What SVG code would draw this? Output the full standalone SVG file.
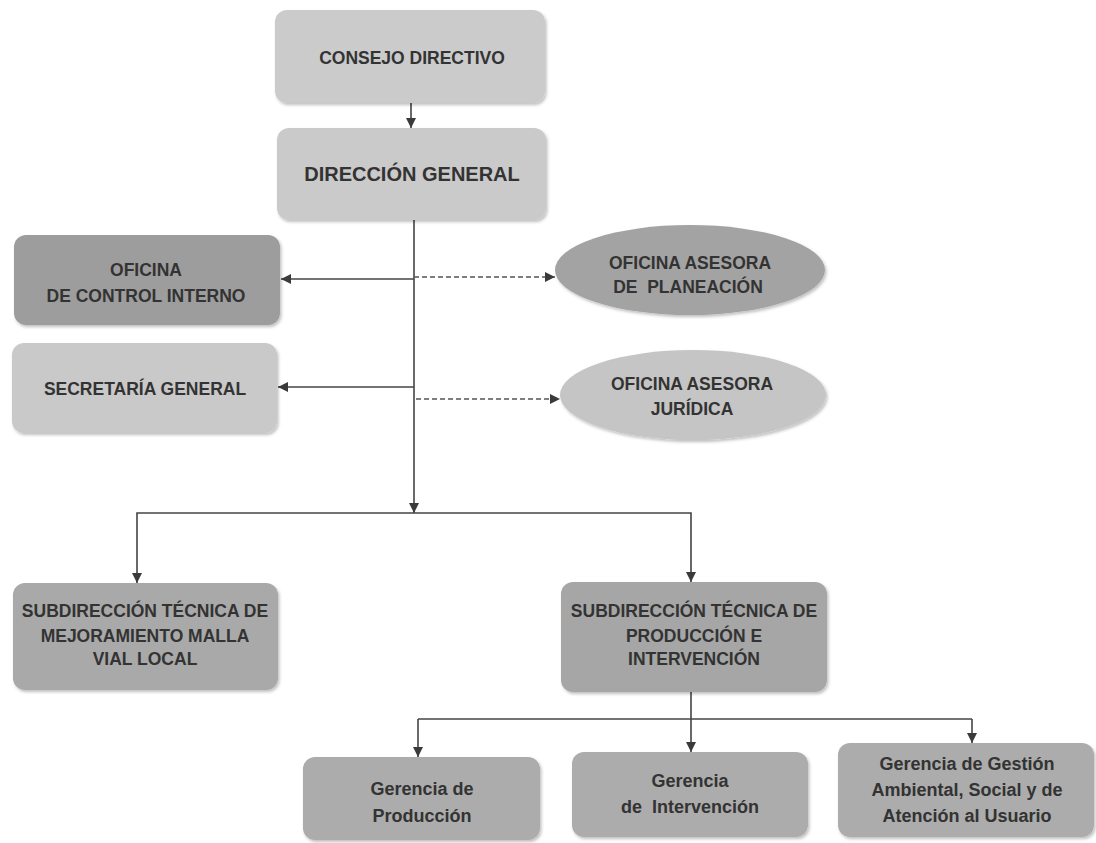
<svg xmlns="http://www.w3.org/2000/svg" width="1096" height="843" viewBox="0 0 1096 843">
<style>
  .box { stroke: none; filter: url(#sh); }
  .t { font-family: "Liberation Sans", Arial, sans-serif; font-weight: bold; font-size: 17.5px; fill: #333333; text-anchor: middle; }
  .tg { font-size: 18px; }
  .big { font-size: 20px; }
  .ln { fill: none; stroke: #444; stroke-width: 1.6; }
  .dash { stroke-dasharray: 5 3; stroke: #555; }
</style>
<defs>
  <filter id="sh" x="-5%" y="-5%" width="112%" height="115%">
    <feDropShadow dx="1.5" dy="2" stdDeviation="1.5" flood-color="#000" flood-opacity="0.25"/>
  </filter>
  <marker id="arr" viewBox="0 0 10 10" refX="10" refY="5" markerWidth="11" markerHeight="10" markerUnits="userSpaceOnUse" orient="auto">
    <path d="M0,0 L10,5 L0,10 Z" fill="#3a3a3a"/>
  </marker>
</defs>
<rect width="1096" height="843" fill="#ffffff"/>

<g id="connectors">
  <path class="ln" d="M411,103 V128" marker-end="url(#arr)"/>
  <path class="ln" d="M414,220 V513" marker-end="url(#arr)"/>
  <path class="ln" d="M414,279 H281" marker-end="url(#arr)"/>
  <path class="ln dash" d="M414,277 H555" marker-end="url(#arr)"/>
  <path class="ln" d="M414,387 H278" marker-end="url(#arr)"/>
  <path class="ln dash" d="M416,399 H560" marker-end="url(#arr)"/>
  <path class="ln" d="M414,513 H137 V583" marker-end="url(#arr)"/>
  <path class="ln" d="M414,513 H691 V582" marker-end="url(#arr)"/>
  <path class="ln" d="M691,692 V719"/>
  <path class="ln" d="M418,719 H972"/>
  <path class="ln" d="M418,719 V757" marker-end="url(#arr)"/>
  <path class="ln" d="M691,719 V752" marker-end="url(#arr)"/>
  <path class="ln" d="M972,719 V743" marker-end="url(#arr)"/>
</g>

<g id="consejo">
  <rect class="box" x="275" y="10" width="270" height="93" rx="12" fill="#cbcbcb"/>
  <text class="t" x="412" y="64">CONSEJO DIRECTIVO</text>
</g>
<g id="direccion">
  <rect class="box" x="277" y="128" width="269" height="92" rx="12" fill="#cacaca"/>
  <text class="t big" x="412" y="181">DIRECCIÓN GENERAL</text>
</g>
<g id="control">
  <rect class="box" x="14" y="235" width="266" height="90" rx="12" fill="#9d9d9d"/>
  <text class="t" x="146" y="276">OFICINA</text>
  <text class="t" x="146" y="302">DE CONTROL INTERNO</text>
</g>
<g id="secretaria">
  <rect class="box" x="12" y="343" width="265" height="90" rx="12" fill="#c9c9c9"/>
  <text class="t" x="145" y="395">SECRETARÍA GENERAL</text>
</g>
<g id="planeacion">
  <ellipse class="box" cx="690" cy="270" rx="135" ry="45" fill="#a3a3a3"/>
  <text class="t" x="690" y="269">OFICINA ASESORA</text>
  <text class="t" x="688" y="293" xml:space="preserve">DE  PLANEACIÓN</text>
</g>
<g id="juridica">
  <ellipse class="box" cx="693" cy="395" rx="133" ry="45" fill="#c5c5c5"/>
  <text class="t" x="692" y="390">OFICINA ASESORA</text>
  <text class="t" x="692" y="415">JURÍDICA</text>
</g>
<g id="mejoramiento">
  <rect class="box" x="13" y="583" width="265" height="107" rx="12" fill="#a9a9a9"/>
  <text class="t" x="145" y="617">SUBDIRECCIÓN TÉCNICA DE</text>
  <text class="t" x="145" y="642">MEJORAMIENTO MALLA</text>
  <text class="t" x="145" y="665">VIAL LOCAL</text>
</g>
<g id="produccion_intervencion">
  <rect class="box" x="561" y="582" width="266" height="110" rx="12" fill="#a6a6a6"/>
  <text class="t" x="694" y="617">SUBDIRECCIÓN TÉCNICA DE</text>
  <text class="t" x="694" y="642">PRODUCCIÓN E</text>
  <text class="t" x="694" y="665">INTERVENCIÓN</text>
</g>
<g id="gerencia_produccion">
  <rect class="box" x="303" y="757" width="237" height="83" rx="12" fill="#acacac"/>
  <text class="t tg" x="422" y="795">Gerencia de</text>
  <text class="t tg" x="422" y="822">Producción</text>
</g>
<g id="gerencia_intervencion">
  <rect class="box" x="572" y="752" width="236" height="85" rx="12" fill="#acacac"/>
  <text class="t tg" x="690" y="787">Gerencia</text>
  <text class="t tg" x="690" y="813" xml:space="preserve">de  Intervención</text>
</g>
<g id="gerencia_gestion">
  <rect class="box" x="838" y="743" width="256" height="94" rx="12" fill="#acacac"/>
  <text class="t tg" x="967" y="770">Gerencia de Gestión</text>
  <text class="t tg" x="967" y="796">Ambiental, Social y de</text>
  <text class="t tg" x="967" y="822">Atención al Usuario</text>
</g>
</svg>
